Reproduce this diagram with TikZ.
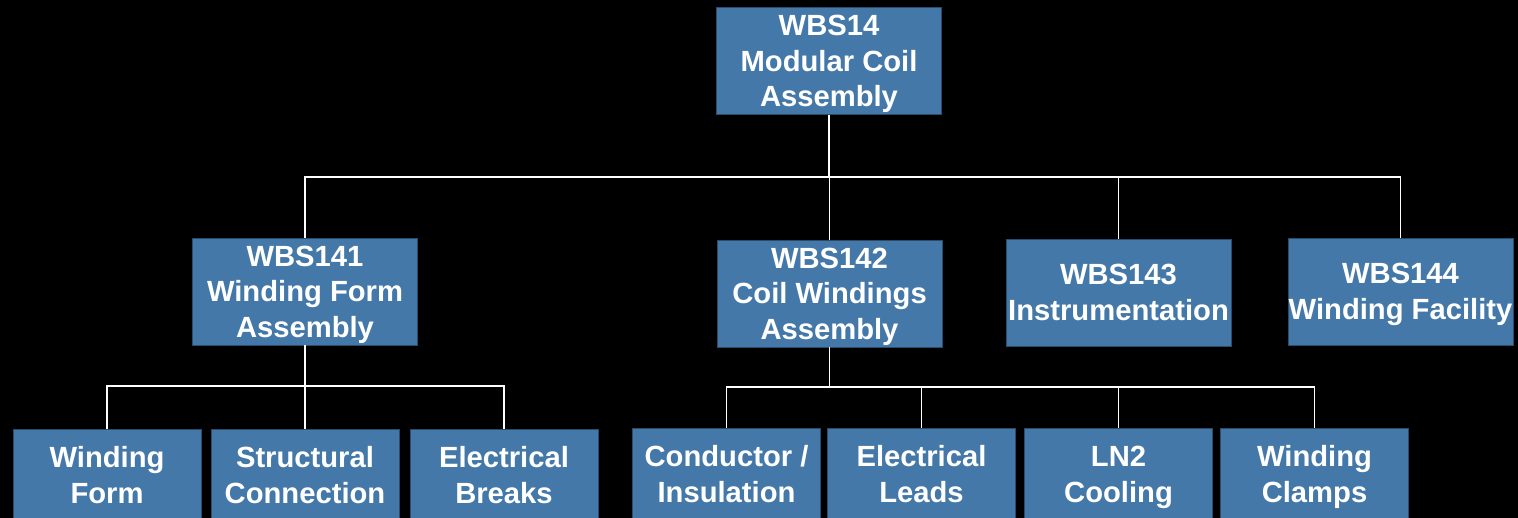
\documentclass[tikz,border=0pt]{standalone}
\usepackage{fontspec}
\setmainfont{Liberation Sans}
\usepackage{tikz}
\usetikzlibrary{positioning}
\definecolor{wbsblue}{RGB}{68,120,168}
\definecolor{wbsedge}{RGB}{40,75,110}

\begin{document}
\begin{tikzpicture}[x=0.5pt, y=-0.5pt,
    box/.style={fill=wbsblue, draw=wbsedge, line width=0.4pt, inner sep=0pt, align=center,
        text depth=0pt, text=white, font=\fontsize{14.6}{17.8}\selectfont\bfseries},
    upper/.style={box, minimum width=112.5pt, minimum height=53.5pt},
    lower/.style={box, minimum width=94pt, minimum height=46pt},
    link/.style={draw=white, line width=0.8pt}]
        \fill[black] (0,0) rectangle (1518,518);
        \useasboundingbox (0,0) rectangle (1518,518);

        % top level
        \node[upper] (wbs14) at (829,61) {WBS14\\Modular Coil\\Assembly};

        % second level
        \node[upper] (wbs141) at (305,291.5) {WBS141\\Winding Form\\Assembly};
        \node[upper] (wbs142) at (829.5,293.5) {WBS142\\Coil Windings\\Assembly};
        \node[upper] (wbs143) at (1118.5,292.5) {WBS143\\Instrumentation};
        \node[upper] (wbs144) at (1400.5,291.5) {WBS144\\Winding Facility};

        % third level
        \node[lower] (form) at (107,475) {Winding\\Form};
        \node[lower, node distance=99pt] (joint) [right of=form] {Structural\\Connection};
        \node[lower, node distance=99.5pt] (breaks) [right of=joint] {Electrical\\Breaks};

        \node[lower] (cond) at (726.5,474) {Conductor /\\Insulation};
        \node[lower, node distance=97.5pt] (leads) [right of=cond] {Electrical\\Leads};
        \node[lower, node distance=98.5pt] (cool) [right of=leads] {LN2\\Cooling};
        \node[lower, node distance=98pt] (clamps) [right of=cool] {Winding\\Clamps};

        \coordinate (bus14) at (829,177);
        \coordinate (bus141) at (305,386);
        \coordinate (bus142) at (829.5,387);

        \draw[link] (wbs14) -- (bus14);
        \foreach \n in {wbs141, wbs142, wbs143, wbs144}
            \draw[link] (\n.north) |- (bus14);

        \draw[link] (wbs141) -- (bus141);
        \foreach \n in {form, joint, breaks}
            \draw[link] (\n.north) |- (bus141);

        \draw[link] (wbs142) -- (bus142);
        \foreach \n in {cond, leads, cool, clamps}
            \draw[link] (\n.north) |- (bus142);
  \end{tikzpicture}
\end{document}
